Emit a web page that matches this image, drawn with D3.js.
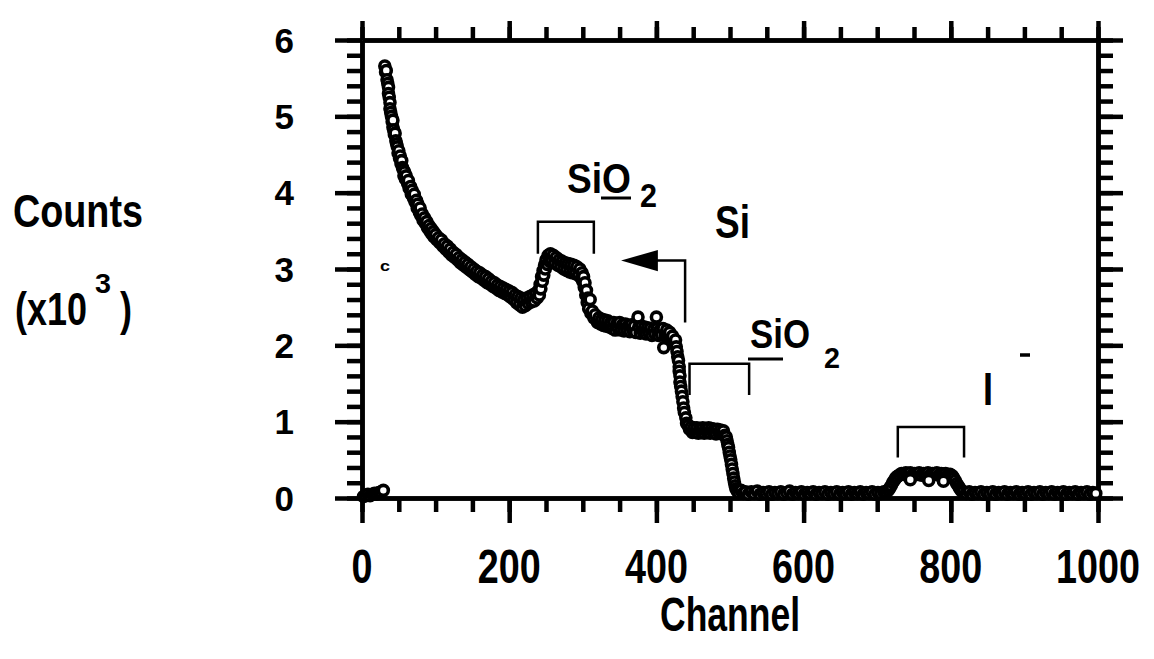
<!DOCTYPE html>
<html>
<head>
<meta charset="utf-8">
<script src="https://cdn.jsdelivr.net/npm/d3@7"></script>
<style>
  body { margin: 0; background: #fff; }
  svg { display: block; }
  text { font-family: "Liberation Sans", Arial, sans-serif; font-weight: bold; fill: #000; }
</style>
</head>
<body>
<svg></svg>
<script>
// spectrum, [channel, counts x10^3]
let lowEnd = [[2,.02],[5,.03],[8,.05],[11,.03],[14,.05],[17,.06],[20,.05],[23,.07],[26,.08],[29,.1]];

let decay = [[31,5.66],[32,5.58],[33,5.6],[34,5.48],[35,5.43],[36,5.38],[36,5.3],[37,5.25],[38,5.18],[38,5.1],
  [39,5.05],[40,5.0],[41,4.93],[42,4.86],[42,4.95],[43,4.82],[44,4.76],[45,4.78],[46,4.68],[47,4.64],[48,4.6],
  [49,4.52],[50,4.55],[51,4.45],[52,4.48],[53,4.38],[54,4.42],[55,4.33],[56,4.3],[57,4.22],[58,4.27],[59,4.18],
  [60,4.22],[62,4.12],[63,4.16],[64,4.06],[66,4.08],[67,3.98],[68,4.03],[70,3.93],[71,3.98],[72,3.88],[74,3.9],
  [75,3.8],[76,3.85],[78,3.74],[79,3.8],[80,3.7],[82,3.72],[83,3.64],[85,3.67],[86,3.6],[88,3.62],[89,3.54],
  [91,3.57],[92,3.5],[94,3.53],[95,3.46],[97,3.49],[98,3.42],[100,3.45],[102,3.38],[104,3.41],[106,3.34],
  [108,3.38],[110,3.3],[112,3.33],[114,3.26],[116,3.3],[118,3.22],[120,3.26],[122,3.18],[124,3.22],[126,3.15],
  [128,3.19],[130,3.12],[132,3.15],[134,3.08],[136,3.12],[138,3.05],[140,3.09],[142,3.02],[144,3.06],[146,2.99],
  [148,3.03],[150,2.96],[152,3.0],[154,2.93],[156,2.97],[158,2.9],[160,2.95],[162,2.88],[164,2.92],[166,2.85],
  [168,2.9],[170,2.82],[172,2.87],[174,2.8],[176,2.84],[178,2.77],[180,2.82],[182,2.75],[184,2.79],[186,2.72],
  [188,2.77],[190,2.7],[192,2.75],[194,2.68],[196,2.73],[198,2.66],[200,2.71],[202,2.63],[204,2.69],[206,2.6],
  [208,2.66],[210,2.56],[212,2.64],[214,2.53],[216,2.62],[218,2.5],[220,2.6],[222,2.52],[224,2.62],[226,2.55],
  [228,2.64],[230,2.57],[232,2.66],[234,2.58],[236,2.68],[238,2.62]];

let oxygenPeak = [[240,2.72],[241,2.66],[242,2.8],[243,2.74],[244,2.9],[245,2.84],[246,2.98],[247,2.92],
  [248,3.05],[249,3.0],[250,3.12],[252,3.06],[253,3.18],[255,3.1],[256,3.2],[258,3.12],[260,3.18],[262,3.08],
  [264,3.15],[266,3.05],[268,3.12],[270,3.03],[272,3.1],[274,3.0],[276,3.08],[278,2.98],[280,3.07],[282,2.96],
  [284,3.06],[286,2.95],[288,3.05],[290,2.94],[292,3.03],[294,2.92],[296,3.0],[298,2.88],[299,2.95],[300,2.84],
  [301,2.9],[302,2.76],[303,2.82],[304,2.66],[305,2.72],[306,2.56],[307,2.62],[308,2.48],[310,2.6],[311,2.42],
  [313,2.45],[315,2.36],[317,2.4]];

let siPlateau = [[320,2.3],[322,2.36],[324,2.28],[326,2.34],[328,2.26],[330,2.33],[332,2.25],[334,2.32],
  [336,2.24],[338,2.3],[340,2.22],[342,2.3],[344,2.2],[346,2.28],[348,2.22],[350,2.3],[352,2.2],[354,2.27],
  [356,2.19],[358,2.28],[360,2.2],[362,2.26],[364,2.18],[366,2.27],[368,2.2],[370,2.25],[372,2.17],[375,2.37],
  [376,2.24],[378,2.16],[380,2.25],[382,2.18],[384,2.24],[386,2.15],[388,2.23],[390,2.16],[392,2.22],[394,2.13],
  [396,2.2],[398,2.15],[400,2.37],[401,2.22],[403,2.13],[405,2.2],[407,2.14],[409,2.22],[410,1.97],[412,2.13],
  [414,2.2],[416,2.1],[418,2.17],[420,2.08],[422,2.12],[424,2.02],[426,2.07]];

let siEdge = [[427,1.98],[428,1.92],[429,1.85],[430,1.8],[431,1.72],[431,1.66],[432,1.6],[432,1.52],[433,1.46],
  [434,1.4],[435,1.33],[436,1.26],[437,1.18],[438,1.12],[440,1.05],[441,.98],[443,.95],[445,.9],[447,.93],
  [449,.86],[451,.92],[453,.86],[455,.92],[457,.85],[459,.91],[461,.86],[463,.92],[465,.85],[467,.91],[469,.86],
  [471,.92],[473,.85],[475,.91],[477,.86],[479,.9],[481,.84],[483,.9],[485,.85],[487,.89],[489,.84],[491,.88],
  [493,.82],[495,.8],[496,.75],[497,.7],[498,.66],[499,.6],[500,.55],[501,.5],[502,.44],[503,.38],[504,.32],
  [505,.26],[506,.21],[507,.16],[508,.12],[510,.09],[512,.07],[515,.1],[518,.06]];

let baseline = [[521,.08],[525,.05],[529,.08],[533,.06],[537,.09],[541,.05],[545,.07],[549,.06],[553,.08],
  [557,.05],[561,.07],[565,.06],[569,.08],[573,.05],[577,.07],[581,.09],[585,.05],[589,.07],[593,.06],[597,.08],
  [601,.05],[605,.07],[609,.06],[613,.08],[617,.05],[621,.07],[625,.06],[629,.08],[633,.05],[637,.07],[641,.06],
  [645,.08],[649,.05],[653,.07],[657,.06],[661,.08],[665,.05],[669,.07],[673,.06],[677,.08],[681,.05],[685,.07],
  [689,.06],[693,.08],[697,.05],[701,.07],[705,.06],[709,.08]];

let heavyPeak = [[712,.08],[715,.1],[717,.13],[719,.16],[721,.2],[723,.23],[725,.26],[727,.28],[730,.3],
  [733,.32],[736,.31],[739,.33],[742,.31],[745,.33],[748,.3],[751,.32],[754,.31],[757,.33],[760,.3],[763,.32],
  [766,.31],[769,.33],[772,.3],[775,.32],[778,.31],[781,.33],[784,.3],[787,.32],[790,.31],[793,.32],[796,.3],
  [799,.31],[802,.29],[804,.26],[806,.23],[808,.19],[810,.16],[812,.13],[814,.1],[817,.08],
  [745,.24],[770,.23],[790,.22]];

let tail = [[821,.06],[825,.08],[829,.05],[833,.07],[837,.06],[841,.08],[845,.05],[849,.07],[853,.06],
  [857,.08],[861,.05],[865,.07],[869,.06],[873,.08],[877,.05],[881,.07],[885,.06],[889,.08],[893,.05],[897,.07],
  [901,.06],[905,.08],[909,.05],[913,.07],[917,.06],[921,.08],[925,.05],[929,.07],[933,.06],[937,.08],[941,.05],
  [945,.07],[949,.06],[953,.08],[957,.05],[961,.07],[965,.06],[969,.08],[973,.05],[977,.07],[981,.06],[985,.08],
  [989,.05],[993,.07],[997,.06]];

let xMajorTicks = [0, 200, 400, 600, 800, 1000];
let yMajorTicks = [0, 1, 2, 3, 4, 5, 6];

// brackets over the peaks: [from channel, to channel, counts at top, counts at foot]
let brackets = [[239, 315, 3.62, 3.2], [445, 526, 1.76, 1.35], [728, 818, 0.93, 0.53]];

let width = 1154;
let height = 659;

let svg = d3.select("svg").attr("width", width).attr("height", height);

let xScale = d3.scaleLinear().domain([0, 1000]).range([362, 1098]);
let yScale = d3.scaleLinear().domain([0, 6]).range([498, 40]);

let xMinor = d3.range(0, 1001, 50);
let yMinor = d3.range(0, 31).map(i => i / 5);

let styleAxis = (g) => {
    g.selectAll("path.domain").attr("stroke", "#000").attr("stroke-width", 4.5);
    g.selectAll(".tick line").attr("stroke", "#000").attr("stroke-width", 4.5);
    g.selectAll(".tick text").remove();
};

// bold text squeezed horizontally to a given width (the original face is narrow)
let addText = (parent, x, y, str, size, len, anchor) => {
    let g = parent.append("g");
    let t = g.append("text")
        .attr("font-size", size)
        .attr("text-anchor", anchor || "start")
        .text(str);
    let s = len ? len / t.node().getComputedTextLength() : 1;
    g.attr("transform", "translate(" + x + "," + y + ") scale(" + s + ",1)");
    return g;
};

let drawAxes = () => {
    let bottom = svg.append("g").attr("transform", "translate(0," + yScale(0) + ")");
    bottom.append("g").call(d3.axisBottom(xScale).tickValues(xMinor).tickSize(14).tickSizeOuter(0)).call(styleAxis);
    bottom.append("g").call(d3.axisBottom(xScale).tickValues(xMajorTicks).tickSize(25).tickSizeOuter(0)).call(styleAxis);

    let top = svg.append("g").attr("transform", "translate(0," + yScale(6) + ")");
    top.append("g").call(d3.axisTop(xScale).tickValues(xMinor).tickSize(13).tickSizeOuter(0)).call(styleAxis);
    top.append("g").call(d3.axisTop(xScale).tickValues(xMajorTicks).tickSize(19).tickSizeOuter(0)).call(styleAxis);

    let left = svg.append("g").attr("transform", "translate(" + xScale(0) + ",0)");
    left.append("g").call(d3.axisLeft(yScale).tickValues(yMinor).tickSize(15).tickSizeOuter(0)).call(styleAxis);
    left.append("g").call(d3.axisLeft(yScale).tickValues(yMajorTicks).tickSize(27).tickSizeOuter(0)).call(styleAxis);

    let right = svg.append("g").attr("transform", "translate(" + xScale(1000) + ",0)");
    right.append("g").call(d3.axisRight(yScale).tickValues(yMinor).tickSize(15).tickSizeOuter(0)).call(styleAxis);
    right.append("g").call(d3.axisRight(yScale).tickValues(yMajorTicks).tickSize(25).tickSizeOuter(0)).call(styleAxis);

    let labels = svg.append("g");
    xMajorTicks.forEach(d => addText(labels, xScale(d), 583, String(d), 48, String(d).length * 21, "middle"));
    yMajorTicks.forEach(d => addText(labels, 294, yScale(d) + 12.5, String(d), 35, 0, "end"));
};

let drawLabels = () => {
    addText(svg, 730, 631, "Channel", 48, 140, "middle");
    addText(svg, 13, 227, "Counts", 46, 130);
    addText(svg, 15, 325, "(x10", 46, 72);
    addText(svg, 95, 293, "3", 28, 16);
    addText(svg, 120, 325, ")", 46, 12);
};

let drawPoints = () => {
    let all = [].concat(lowEnd, decay, oxygenPeak, siPlateau, siEdge, baseline, heavyPeak, tail);
    svg.append("g").selectAll("circle")
        .data(all)
        .enter()
        .append("circle")
        .attr("cx", d => xScale(d[0]))
        .attr("cy", d => yScale(d[1]))
        .attr("r", 5)
        .attr("fill", "#fff")
        .attr("stroke", "#000")
        .attr("stroke-width", 3.6);
};

let drawAnnotations = () => {
    let ann = svg.append("g");

    ann.selectAll("path.bracket")
        .data(brackets)
        .enter()
        .append("path")
        .attr("class", "bracket")
        .attr("fill", "none")
        .attr("stroke", "#000")
        .attr("stroke-width", 2.5)
        .attr("d", d => "M" + xScale(d[0]) + "," + yScale(d[3]) + "V" + yScale(d[2]) +
            "H" + xScale(d[1]) + "V" + yScale(d[3]));

    // arrow pointing back from the Si edge
    ann.append("path")
        .attr("fill", "none")
        .attr("stroke", "#000")
        .attr("stroke-width", 2.5)
        .attr("d", "M" + xScale(439) + "," + yScale(2.3) + "V" + yScale(3.11) + "H" + xScale(400));
    ann.append("path")
        .attr("fill", "#000")
        .attr("d", "M" + xScale(352) + "," + yScale(3.11) + "L" + xScale(402) + "," + yScale(3.25) +
            "L" + xScale(402) + "," + yScale(2.97) + "Z");

    // SiO2 with O underlined
    addText(ann, 567, 193, "SiO", 43, 64);
    addText(ann, 640, 207, "2", 34, 17);
    ann.append("line").attr("x1", 601).attr("x2", 631).attr("y1", 198).attr("y2", 198)
        .attr("stroke", "#000").attr("stroke-width", 3);

    addText(ann, 715, 238, "Si", 47, 35);

    // SiO2 with Si underlined
    addText(ann, 750, 348, "SiO", 40, 60);
    addText(ann, 824, 368, "2", 30, 16);
    ann.append("line").attr("x1", 748).attr("x2", 783).attr("y1", 359).attr("y2", 359)
        .attr("stroke", "#000").attr("stroke-width", 3);

    addText(ann, 983, 405, "I", 46, 10);
    ann.append("line").attr("x1", 1020).attr("x2", 1030).attr("y1", 355).attr("y2", 355)
        .attr("stroke", "#000").attr("stroke-width", 3.5);

    addText(ann, 380, 271, "c", 15, 10);
};

drawAxes();
drawLabels();
drawPoints();
drawAnnotations();
</script>
</body>
</html>
